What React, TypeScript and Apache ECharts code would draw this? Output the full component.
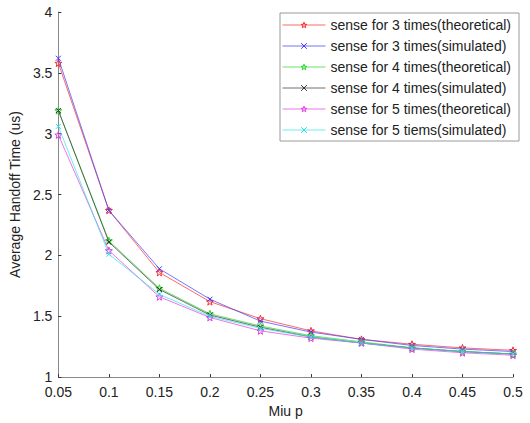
import React, { useEffect, useRef } from "react";
import * as echarts from "echarts";

const xValues = ["0.05", "0.1", "0.15", "0.2", "0.25", "0.3", "0.35", "0.4", "0.45", "0.5"];
const theo3 = [3.58, 2.37, 1.86, 1.62, 1.48, 1.38, 1.31, 1.27, 1.24, 1.22];
const sim3 = [3.62, 2.37, 1.89, 1.64, 1.46, 1.37, 1.31, 1.26, 1.23, 1.21];
const theo4 = [3.19, 2.12, 1.73, 1.52, 1.42, 1.34, 1.29, 1.24, 1.21, 1.19];
const sim4 = [3.19, 2.11, 1.72, 1.51, 1.41, 1.33, 1.28, 1.24, 1.21, 1.19];
const theo5 = [2.99, 2.04, 1.66, 1.49, 1.38, 1.32, 1.28, 1.23, 1.20, 1.18];
const sim5 = [3.06, 2.01, 1.68, 1.50, 1.40, 1.33, 1.28, 1.24, 1.21, 1.19];
const seriesNames = [
  "sense for 3 times(theoretical)",
  "sense for 3 times(simulated)",
  "sense for 4 times(theoretical)",
  "sense for 4 times(simulated)",
  "sense for 5 times(theoretical)",
  "sense for 5 tiems(simulated)",
];
const seriesColors = ["#ff2a2a", "#3b3bff", "#2ad42a", "#333333", "#e43be4", "#2ee6e6"];
const seriesData = [theo3, sim3, theo4, sim4, theo5, sim5];
const yTicks = [1, 1.5, 2, 2.5, 3, 3.5, 4];

const STAR =
  "path://M0,-10 L2.35,-3.24 9.51,-3.09 3.8,1.24 5.88,8.09 0,4 -5.88,8.09 -3.8,1.24 -9.51,-3.09 -2.35,-3.24Z";
const CROSS = "path://M-1,-1 L1,1 M1,-1 L-1,1";

export default function App() {
  const ref = useRef<HTMLDivElement>(null);
  useEffect(() => {
    if (!ref.current) return;
    document.body.style.margin = "0";
    const chart = echarts.init(ref.current, undefined, { renderer: "svg" });
    const font = "Arial, 'Liberation Sans', sans-serif";
    const itemStyleFor = (i: number) => ({
      color: i % 2 === 0 ? "rgba(255,255,255,0)" : seriesColors[i],
      borderColor: seriesColors[i],
      borderWidth: 1,
    });
    chart.setOption({
      animation: false,
      backgroundColor: "#ffffff",
      textStyle: { fontFamily: font },
      grid: { left: 54, right: 17, top: 12, bottom: 43 },
      legend: {
        orient: "vertical",
        left: 280,
        top: 13,
        padding: [5, 8, 4, 2],
        itemGap: 7,
        itemWidth: 43,
        itemHeight: 7,
        itemTextGap: 5,
        borderColor: "#9a9a9a",
        borderWidth: 1,
        backgroundColor: "#ffffff",
        textStyle: { fontSize: 14, color: "#222", fontFamily: font, lineHeight: 14 },
        data: seriesNames.map((n, i) => ({
          name: n,
          itemStyle: itemStyleFor(i),
          lineStyle: { color: seriesColors[i], width: 1, opacity: 0.7 },
        })),
      },
      xAxis: {
        type: "category",
        data: xValues,
        boundaryGap: false,
        name: "Miu p",
        nameLocation: "middle",
        nameGap: 19,
        nameTextStyle: { fontSize: 14, color: "#222", fontFamily: font },
        axisLine: { lineStyle: { color: "#888", width: 1 } },
        axisTick: { inside: true, length: 3, lineStyle: { color: "#333" } },
        axisLabel: { fontSize: 14, color: "#222", margin: 8, fontFamily: font },
        splitLine: { show: false },
      },
      yAxis: {
        type: "value",
        min: yTicks[0],
        max: yTicks[yTicks.length - 1],
        interval: 0.5,
        name: "Average Handoff Time (us)",
        nameLocation: "middle",
        nameGap: 31,
        nameTextStyle: { fontSize: 14, color: "#222", fontFamily: font },
        axisLine: { show: true, lineStyle: { color: "#888", width: 1 } },
        axisTick: { show: true, inside: true, length: 3, lineStyle: { color: "#333" } },
        axisLabel: { fontSize: 14, color: "#222", margin: 6, fontFamily: font },
        splitLine: { show: false },
      },
      series: seriesNames.map((name, i) => ({
        name,
        type: "line",
        data: seriesData[i],
        symbol: i % 2 === 0 ? STAR : CROSS,
        symbolSize: i % 2 === 0 ? 7 : 5,
        showSymbol: true,
        lineStyle: { color: seriesColors[i], width: 1, opacity: 0.7 },
        itemStyle: itemStyleFor(i),
        z: 2 + i,
      })),
    });
    return () => chart.dispose();
  }, []);
  return <div ref={ref} style={{ width: 530, height: 423 }} />;
}
